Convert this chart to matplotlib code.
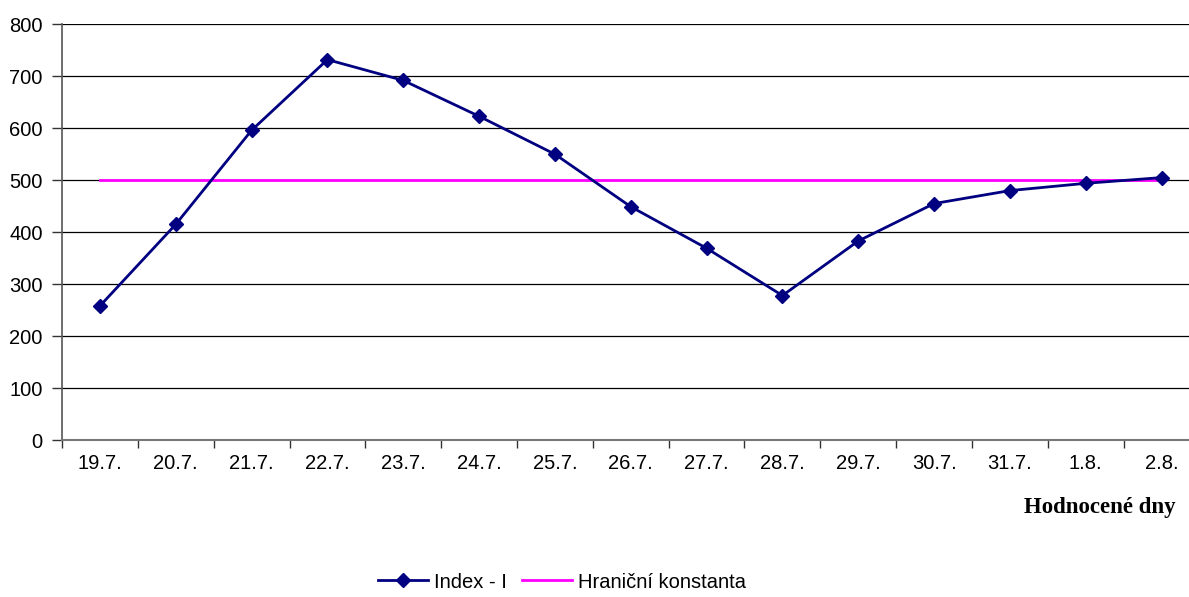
import numpy as np
import matplotlib.pyplot as plt

plt.rcParams['font.family'] = ['Liberation Sans', 'DejaVu Sans']

# data
days = ['19.7.', '20.7.', '21.7.', '22.7.', '23.7.', '24.7.', '25.7.', '26.7.',
        '27.7.', '28.7.', '29.7.', '30.7.', '31.7.', '1.8.', '2.8.']
index_i = [258, 415, 596, 732, 692, 623, 550, 449, 369, 278, 383, 455, 480, 494, 505]
limit_const = [500] * len(days)

fig = plt.figure(figsize=(11.89, 5.97), dpi=100)
# axes runs a bit past the right edge, like in the original export
ax = fig.add_axes([62 / 1189, 1 - 440 / 597, 1137.5 / 1189, 415.7 / 597])

x = np.arange(len(days))
l1, = ax.plot(x, index_i, color='#000080', lw=2.0, marker='D', ms=7,
              label='Index - I', zorder=4)
l2, = ax.plot(x, limit_const, color='#FF00FF', lw=2.0, label='Hraniční konstanta',
              zorder=3)

ax.set_xlim(-0.5, len(days) - 0.5)
ax.set_ylim(0, 800)
ax.set_yticks(np.arange(0, 801, 100))
ax.set_xticks(np.arange(-0.5, len(days), 1.0), minor=False)
ax.set_xticklabels([])
ax.set_xticks(x, minor=True)
ax.set_xticklabels(days, minor=True)
ax.tick_params(axis='x', which='minor', length=0, pad=10, labelsize=14.5)
ax.tick_params(axis='x', which='major', length=6, width=1, color='#333333', direction='out')
ax.tick_params(axis='y', length=7, width=1, color='#333333', pad=7, labelsize=14.5)

ax.grid(axis='y', color='black', lw=0.9)
ax.set_axisbelow(True)
for s in ['top', 'right']:
    ax.spines[s].set_visible(False)
ax.spines['left'].set_color('#555555')
ax.spines['bottom'].set_color('#777777')
ax.spines['left'].set_linewidth(1.2)
ax.spines['bottom'].set_linewidth(1.5)

fig.text(1176 / 1189, 1 - 507 / 597, 'Hodnocené dny', ha='right', va='center',
         fontsize=16.5, fontweight='bold', family=['Liberation Serif', 'DejaVu Serif'])

fig.legend(handles=[l1, l2], loc='center', bbox_to_anchor=(562 / 1189, 1 - 582 / 597),
           ncol=2, frameon=False, fontsize=14.5, handlelength=2.5, handletextpad=0.3,
           columnspacing=0.75, borderpad=0)

fig.savefig('out.png', dpi=100)
